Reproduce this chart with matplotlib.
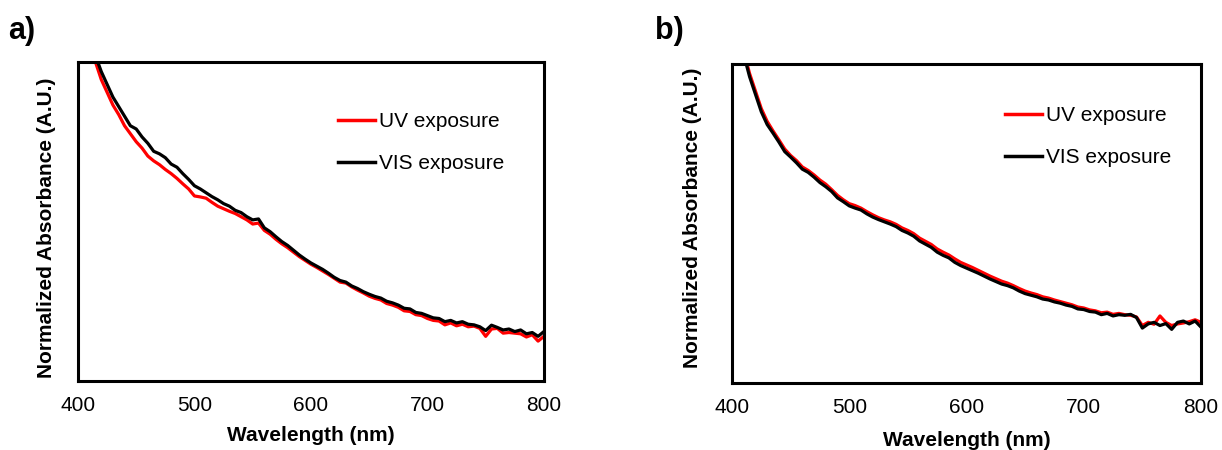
import matplotlib
matplotlib.use("Agg")
import matplotlib.pyplot as plt

plt.rcParams['font.family'] = ['Liberation Sans', 'DejaVu Sans']

# wavelength grid (nm)
wavelength = [410, 415, 420, 425, 430, 435, 440, 445, 450, 455,
              460, 465, 470, 475, 480, 485, 490, 495, 500, 505,
              510, 515, 520, 525, 530, 535, 540, 545, 550, 555,
              560, 565, 570, 575, 580, 585, 590, 595, 600, 605,
              610, 615, 620, 625, 630, 635, 640, 645, 650, 655,
              660, 665, 670, 675, 680, 685, 690, 695, 700, 705,
              710, 715, 720, 725, 730, 735, 740, 745, 750, 755,
              760, 765, 770, 775, 780, 785, 790, 795, 800]

# panel a
a_uv = [1.08, 1.00, 0.945, 0.905, 0.865, 0.835, 0.80, 0.775, 0.75, 0.73,
        0.705, 0.69, 0.678, 0.663, 0.65, 0.635, 0.618, 0.602, 0.58, 0.577,
        0.573, 0.56, 0.548, 0.54, 0.532, 0.525, 0.515, 0.505, 0.492, 0.495,
        0.472, 0.46, 0.444, 0.43, 0.418, 0.404, 0.39, 0.378, 0.366, 0.356,
        0.345, 0.334, 0.322, 0.31, 0.307, 0.295, 0.285, 0.276, 0.266, 0.259,
        0.254, 0.243, 0.238, 0.231, 0.22, 0.218, 0.208, 0.205, 0.196, 0.19,
        0.188, 0.176, 0.182, 0.173, 0.178, 0.17, 0.172, 0.165, 0.14, 0.163,
        0.165, 0.15, 0.152, 0.15, 0.148, 0.138, 0.145, 0.125, 0.14]
a_vis = [1.10, 1.02, 0.97, 0.93, 0.89, 0.86, 0.83, 0.80, 0.79, 0.765,
         0.745, 0.72, 0.712, 0.70, 0.68, 0.67, 0.65, 0.632, 0.612, 0.602,
         0.59, 0.578, 0.568, 0.556, 0.548, 0.535, 0.528, 0.515, 0.505, 0.508,
         0.48, 0.468, 0.452, 0.437, 0.425, 0.41, 0.395, 0.382, 0.37, 0.36,
         0.35, 0.338, 0.325, 0.315, 0.31, 0.298, 0.29, 0.28, 0.272, 0.265,
         0.26, 0.25, 0.245, 0.238, 0.228, 0.226, 0.215, 0.212, 0.205, 0.198,
         0.196, 0.186, 0.19, 0.182, 0.186, 0.178, 0.176, 0.17, 0.158, 0.175,
         0.168, 0.16, 0.163, 0.155, 0.16, 0.148, 0.152, 0.14, 0.155]

# panel b
b_uv = [1.04, 0.97, 0.915, 0.86, 0.82, 0.79, 0.762, 0.733, 0.713, 0.697,
        0.677, 0.666, 0.652, 0.636, 0.623, 0.606, 0.588, 0.574, 0.562, 0.556,
        0.548, 0.537, 0.527, 0.518, 0.511, 0.505, 0.497, 0.486, 0.478, 0.468,
        0.454, 0.444, 0.434, 0.42, 0.41, 0.401, 0.389, 0.378, 0.37, 0.362,
        0.353, 0.344, 0.335, 0.327, 0.319, 0.313, 0.305, 0.296, 0.288, 0.282,
        0.277, 0.27, 0.266, 0.26, 0.255, 0.25, 0.245, 0.238, 0.235, 0.229,
        0.226, 0.22, 0.222, 0.215, 0.218, 0.214, 0.212, 0.207, 0.18, 0.19,
        0.184, 0.21, 0.19, 0.18, 0.185, 0.188, 0.192, 0.198, 0.19]
b_vis = [1.03, 0.96, 0.905, 0.85, 0.81, 0.783, 0.755, 0.725, 0.708, 0.69,
         0.67, 0.66, 0.645, 0.628, 0.615, 0.60, 0.58, 0.568, 0.555, 0.548,
         0.542, 0.53, 0.52, 0.512, 0.505, 0.498, 0.49, 0.478, 0.47, 0.46,
         0.445, 0.435, 0.425, 0.41, 0.40, 0.392, 0.378, 0.368, 0.36, 0.352,
         0.344, 0.335, 0.326, 0.318, 0.31, 0.305, 0.298, 0.288, 0.28, 0.275,
         0.27, 0.263, 0.26, 0.254, 0.25, 0.244, 0.24, 0.232, 0.23, 0.224,
         0.222, 0.214, 0.218, 0.21, 0.214, 0.212, 0.215, 0.205, 0.172, 0.185,
         0.19, 0.18, 0.186, 0.168, 0.19, 0.194, 0.185, 0.194, 0.175]

xticks = [400, 500, 600, 700, 800]

fig = plt.figure(figsize=(12.22, 4.5), dpi=100)
ax_a = fig.add_axes([0.0638, 0.1533, 0.3813, 0.709])
ax_b = fig.add_axes([0.599, 0.149, 0.3838, 0.709])

panels = [
    (ax_a, a_uv, a_vis, (0.558, 0.843), -0.068, 0.48, -0.17),
    (ax_b, b_uv, b_vis, (0.582, 0.868), -0.085, 0.517, -0.18),
]

for ax, uv, vis, leg_pos, ylab_x, ylab_y, xlab_y in panels:
    ax.plot(wavelength, uv, color='#ff0000', lw=2.3, label='UV exposure')
    ax.plot(wavelength, vis, color='black', lw=2.3, label='VIS exposure')
    ax.set_xlim(400, 800)
    ax.set_ylim(0, 1)
    ax.set_xticks(xticks)
    ax.set_yticks([])
    ax.tick_params(axis='x', length=0, pad=11, labelsize=15)
    for s in ax.spines.values():
        s.set_linewidth(2.2)
        s.set_color('black')
    ax.set_xlabel('Wavelength (nm)', fontsize=15, fontweight='bold', va='center')
    ax.xaxis.set_label_coords(0.5, xlab_y)
    ax.set_ylabel('Normalized Absorbance (A.U.)', fontsize=15, fontweight='bold', va='center')
    ax.yaxis.set_label_coords(ylab_x, ylab_y)
    leg = ax.legend(loc='upper left', bbox_to_anchor=leg_pos, frameon=False,
                    fontsize=15, handlelength=1.8, handletextpad=0.15,
                    labelspacing=1.1, borderpad=0, borderaxespad=0)
    for line in leg.get_lines():
        line.set_linewidth(2.5)

fig.text(0.007, 0.932, 'a)', fontsize=22, fontweight='bold', va='center')
fig.text(0.536, 0.932, 'b)', fontsize=22, fontweight='bold', va='center')

fig.savefig('out.png', dpi=100)
